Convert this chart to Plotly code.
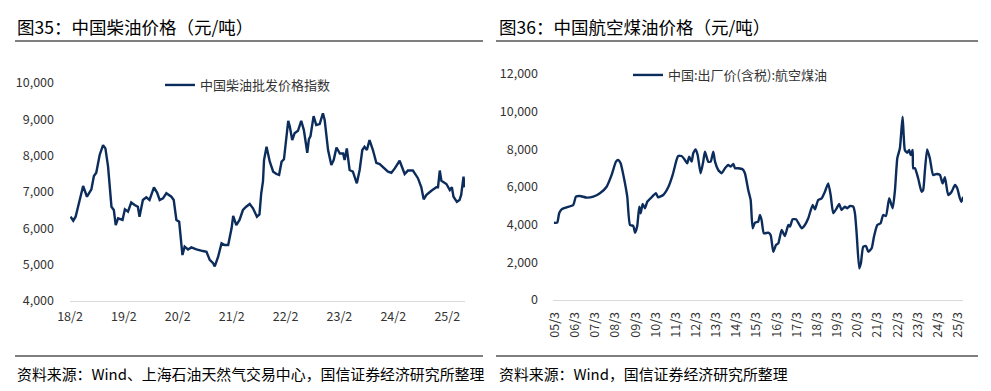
import plotly.graph_objects as go

# ---------------- Data: 中国柴油批发价格指数 ----------------
diesel_dates = [
    "2018-02-05", "2018-02-23", "2018-03-11", "2018-04-03", "2018-05-01", "2018-05-27",
    "2018-06-26", "2018-07-13", "2018-07-29", "2018-08-21", "2018-09-13", "2018-09-29",
    "2018-10-17", "2018-11-09", "2018-11-25", "2018-12-08", "2018-12-24", "2019-01-23",
    "2019-02-08", "2019-03-01", "2019-03-23", "2019-04-15", "2019-05-07", "2019-05-18",
    "2019-06-10", "2019-07-03", "2019-07-25", "2019-08-24", "2019-09-14", "2019-10-02",
    "2019-10-24", "2019-11-16", "2019-12-20", "2020-01-05", "2020-01-23", "2020-02-11",
    "2020-02-27", "2020-03-04", "2020-03-19", "2020-04-11", "2020-05-03", "2020-06-07",
    "2020-07-21", "2020-08-14", "2020-09-05", "2020-09-28", "2020-10-09", "2020-11-01",
    "2020-11-24", "2020-12-16", "2021-01-08", "2021-01-31", "2021-02-11", "2021-03-04",
    "2021-03-26", "2021-04-18", "2021-05-10", "2021-06-03", "2021-06-25", "2021-07-22",
    "2021-08-08", "2021-08-20", "2021-09-01", "2021-09-08", "2021-09-25", "2021-10-17",
    "2021-11-09", "2021-12-01", "2021-12-19", "2022-01-05", "2022-01-21", "2022-02-08",
    "2022-02-19", "2022-03-01", "2022-03-18", "2022-04-03", "2022-04-26", "2022-05-18",
    "2022-06-05", "2022-06-28", "2022-07-09", "2022-07-20", "2022-08-10", "2022-08-28",
    "2022-09-20", "2022-10-12", "2022-10-24", "2022-11-16", "2022-12-08", "2022-12-24",
    "2023-01-12", "2023-02-04", "2023-02-26", "2023-03-08", "2023-03-23", "2023-04-11",
    "2023-05-03", "2023-05-30", "2023-06-18", "2023-07-06", "2023-07-21", "2023-08-06",
    "2023-08-24", "2023-09-16", "2023-10-09", "2023-11-01", "2023-12-05", "2023-12-27",
    "2024-01-19", "2024-02-11", "2024-03-15", "2024-04-18", "2024-05-10", "2024-06-13",
    "2024-07-17", "2024-08-09", "2024-08-25", "2024-09-13", "2024-10-16", "2024-11-19",
    "2024-11-30", "2024-12-12", "2024-12-23", "2025-01-26", "2025-02-18", "2025-03-04",
    "2025-03-15", "2025-04-07", "2025-04-25", "2025-05-06", "2025-05-22", "2025-05-29",
]
diesel_values = [
    6320, 6210, 6320, 6690, 7165, 6870,
    7075, 7440, 7530, 8020, 8290, 8200,
    7700, 6595, 6505, 6090, 6275, 6230,
    6525, 6460, 6710, 6640, 6595, 6320,
    6780, 6855, 6780, 7130, 6985, 6780,
    6825, 6965, 6870, 6780, 6230, 6180,
    5495, 5265, 5495, 5420, 5475, 5420,
    5375, 5355, 5130, 5040, 4950, 5220,
    5590, 5540, 5540, 6000, 6340, 6090,
    6230, 6505, 6595, 6670, 6550, 6320,
    6380, 6965, 7300, 7880, 8245, 7835,
    7560, 7495, 7470, 7835, 7900, 8615,
    8960, 8815, 8430, 8615, 8685, 8960,
    8705, 8080, 8450, 8540, 9090, 8845,
    8870, 9165, 8980, 8155, 7745, 7880,
    8225, 8060, 8060, 7880, 8200, 7605,
    7560, 7240, 7605, 8155, 8245, 8155,
    8430, 8155, 7805, 7770, 7650, 7560,
    7530, 7650, 7860, 7495, 7590, 7590,
    7380, 7130, 6800, 6920, 7035, 7130,
    7130, 7590, 7310, 7220, 7055, 7130,
    6870, 6730, 6780, 6920, 7420, 7130,
]
diesel_tick_vals = ["2018-02-01", "2019-02-01", "2020-02-01", "2021-02-01",
                    "2022-02-01", "2023-02-01", "2024-02-01", "2025-02-01"]
diesel_tick_text = ["18/2", "19/2", "20/2", "21/2", "22/2", "23/2", "24/2", "25/2"]
diesel_y_vals = [4000, 5000, 6000, 7000, 8000, 9000, 10000]
diesel_y_text = ["4,000", "5,000", "6,000", "7,000", "8,000", "9,000", "10,000"]

# ---------------- Data: 中国:出厂价(含税):航空煤油 ----------------
jet_dates = [
    "2005-02-12", "2005-04-11", "2005-05-17", "2005-06-30", "2005-09-29", "2006-01-27",
    "2006-03-16", "2006-05-27", "2006-09-27", "2007-01-25", "2007-05-25", "2007-09-24",
    "2007-12-24", "2008-03-11", "2008-04-22", "2008-06-04", "2008-08-04", "2008-10-02",
    "2008-11-21", "2009-01-20", "2009-02-20", "2009-04-01", "2009-05-07", "2009-06-02",
    "2009-07-08", "2009-08-19", "2009-09-30", "2009-12-18", "2010-03-05", "2010-04-16",
    "2010-07-16", "2010-10-15", "2011-01-03", "2011-03-15", "2011-04-13", "2011-06-14",
    "2011-08-13", "2011-09-24", "2011-10-30", "2011-12-13", "2012-01-11", "2012-02-24",
    "2012-03-31", "2012-05-24", "2012-07-10", "2012-08-10", "2012-10-09", "2012-11-22",
    "2013-01-09", "2013-02-09", "2013-04-08", "2013-06-09", "2013-08-08", "2013-10-07",
    "2013-11-20", "2014-01-06", "2014-02-06", "2014-04-06", "2014-06-24", "2014-08-05",
    "2014-10-04", "2014-11-17", "2014-12-23", "2015-02-03", "2015-04-03", "2015-05-03",
    "2015-06-03", "2015-07-15", "2015-10-01", "2015-11-14", "2016-01-01", "2016-02-19",
    "2016-04-01", "2016-06-01", "2016-07-30", "2016-09-29", "2016-10-29", "2016-12-17",
    "2017-02-16", "2017-03-28", "2017-05-29", "2017-07-27", "2017-09-26", "2017-12-15",
    "2018-01-26", "2018-03-25", "2018-05-26", "2018-07-25", "2018-09-23", "2018-11-06",
    "2018-12-23", "2019-02-23", "2019-04-10", "2019-05-23", "2019-07-22", "2019-09-03",
    "2019-10-21", "2019-12-20", "2020-01-20", "2020-02-20", "2020-04-07", "2020-05-07",
    "2020-06-18", "2020-08-07", "2020-09-18", "2020-11-18", "2020-12-30", "2021-02-28",
    "2021-04-29", "2021-06-15", "2021-08-04", "2021-10-03", "2021-12-04", "2022-01-15",
    "2022-02-26", "2022-04-14", "2022-06-02", "2022-07-13", "2022-08-24", "2022-09-30",
    "2022-10-25", "2022-12-01", "2022-12-12", "2023-01-12", "2023-03-11", "2023-05-11",
    "2023-06-10", "2023-07-10", "2023-08-21", "2023-10-09", "2023-12-08", "2024-02-09",
    "2024-04-08", "2024-05-27", "2024-07-08", "2024-09-06", "2024-11-07", "2025-01-06",
    "2025-02-17", "2025-04-05", "2025-05-05", "2025-06-04",
]
jet_values = [
    4105, 4105, 4605, 4815, 4920, 5045,
    5485, 5525, 5435, 5485, 5665, 6015,
    6640, 7345, 7435, 7260, 6465, 5485,
    3985, 3930, 3575, 3930, 4955, 4605,
    5100, 4870, 5220, 5455, 5665, 5455,
    5575, 5985, 6640, 7435, 7645, 7645,
    7435, 7260, 7610, 7345, 7790, 8000,
    7700, 6730, 7345, 7875, 7345, 7345,
    7875, 7345, 6905, 6730, 6995, 7170,
    7080, 7225, 6995, 6995, 6940, 6730,
    5840, 5310, 3810, 4105, 4160, 4515,
    4250, 3540, 3575, 3450, 2565, 2920,
    3010, 3720, 3400, 3985, 3895, 4285,
    4285, 4105, 3810, 3985, 4340, 5045,
    4815, 5310, 5400, 5750, 6195, 5575,
    4605, 4870, 5100, 4780, 4955, 4870,
    4990, 4955, 4605, 3540, 1680, 1950,
    2830, 2870, 2565, 2745, 3360, 3985,
    4075, 4515, 4460, 5400, 4870, 5840,
    7525, 8055, 9735, 7965, 7820, 7965,
    7700, 7965, 6995, 6995, 6465, 5750,
    5840, 6815, 8000, 7525, 6640, 6690,
    6640, 6195, 6515, 5575, 5750, 6105,
    5930, 5400, 5220, 5485,
]
jet_tick_vals = [f"{y}-03-01" for y in range(2005, 2026)]
jet_tick_text = ["05/3", "06/3", "07/3", "08/3", "09/3", "10/3", "11/3", "12/3", "13/3", "14/3",
                 "15/3", "16/3", "17/3", "18/3", "19/3", "20/3", "21/3", "22/3", "23/3", "24/3", "25/3"]
jet_y_vals = [0, 2000, 4000, 6000, 8000, 10000, 12000]
jet_y_text = ["0", "2,000", "4,000", "6,000", "8,000", "10,000", "12,000"]

# ---------------- Figure ----------------
W, H = 991, 391
OFF = 8  # page body margin: screen position = figure position + 8
FONT = "Noto Sans CJK SC"
LINE = "#0c2c5c"
TICKC = "#333333"


def px_x(v):
    return (v - OFF) / W


def px_y(v):
    return 1 - (v - OFF) / H


fig = go.Figure()
fig.add_trace(go.Scatter(
    x=diesel_dates, y=diesel_values, mode="lines", name="中国柴油批发价格指数",
    line=dict(color=LINE, width=2.4), xaxis="x", yaxis="y", legend="legend",
))
fig.add_trace(go.Scatter(
    x=jet_dates, y=jet_values, mode="lines", name="中国:出厂价(含税):航空煤油",
    line=dict(color=LINE, width=2.4, shape="spline", smoothing=0.5),
    xaxis="x2", yaxis="y2", legend="legend2",
))

axis_common = dict(showgrid=False, zeroline=False, fixedrange=True, automargin=False,
                   tickfont=dict(family=FONT, size=12.5, color=TICKC))

fig.update_layout(
    width=W, height=H,
    margin=dict(l=0, r=0, t=0, b=0, autoexpand=False),
    paper_bgcolor="white", plot_bgcolor="white",
    font=dict(family=FONT, color="#000000"),
    xaxis=dict(domain=[px_x(70), px_x(465)], type="date",
               range=["2018-02-01", "2025-06-01"],
               tickmode="array", tickvals=diesel_tick_vals, ticktext=diesel_tick_text,
               showline=True, linecolor="#d9d9d9", linewidth=1, ticks="",
               ticklabelstandoff=4, anchor="y", **axis_common),
    yaxis=dict(domain=[px_y(301), px_y(83)], range=[4000, 10000],
               tickmode="array", tickvals=diesel_y_vals, ticktext=diesel_y_text,
               showline=False, ticks="", ticklabelstandoff=15, anchor="x", **axis_common),
    xaxis2=dict(domain=[px_x(553), px_x(963)], type="date",
                range=["2005-01-25", "2025-06-01"],
                tickmode="array", tickvals=jet_tick_vals, ticktext=jet_tick_text,
                tickangle=-90,
                showline=True, linecolor="#d9d9d9", linewidth=1, ticks="",
                ticklabelstandoff=6, anchor="y2", **axis_common),
    yaxis2=dict(domain=[px_y(300), px_y(74)], range=[0, 12000],
                tickmode="array", tickvals=jet_y_vals, ticktext=jet_y_text,
                showline=False, ticks="", ticklabelstandoff=14, anchor="x2", **axis_common),
    legend=dict(x=px_x(160), y=px_y(85), xanchor="left", yanchor="middle",
                bgcolor="rgba(0,0,0,0)", font=dict(family=FONT, size=13, color="#333333")),
    legend2=dict(x=px_x(628), y=px_y(75), xanchor="left", yanchor="middle",
                 bgcolor="rgba(0,0,0,0)", font=dict(family=FONT, size=13, color="#333333")),
    showlegend=True,
)

# Titles and sources
texts = [
    ("图35：中国柴油价格（元/吨）", 15, 26, 17.5),
    ("图36：中国航空煤油价格（元/吨）", 497, 26, 17.5),
    ("资料来源：Wind、上海石油天然气交易中心，国信证券经济研究所整理", 15, 373, 14.9),
    ("资料来源：Wind，国信证券经济研究所整理", 497, 373, 14.9),
]
for t, x, y, s in texts:
    fig.add_annotation(text=t, x=px_x(x), y=px_y(y), xref="paper", yref="paper",
                       xanchor="left", yanchor="middle", showarrow=False,
                       font=dict(family=FONT, size=s, color="#000000"))

# Separator rules
for x0, x1, y in [(15, 483, 41), (496, 978, 41), (15, 483, 356), (496, 978, 356)]:
    fig.add_shape(type="line", xref="paper", yref="paper",
                  x0=px_x(x0), x1=px_x(x1), y0=px_y(y), y1=px_y(y),
                  line=dict(color="#555555", width=1.5))

fig.write_html("out.html")
